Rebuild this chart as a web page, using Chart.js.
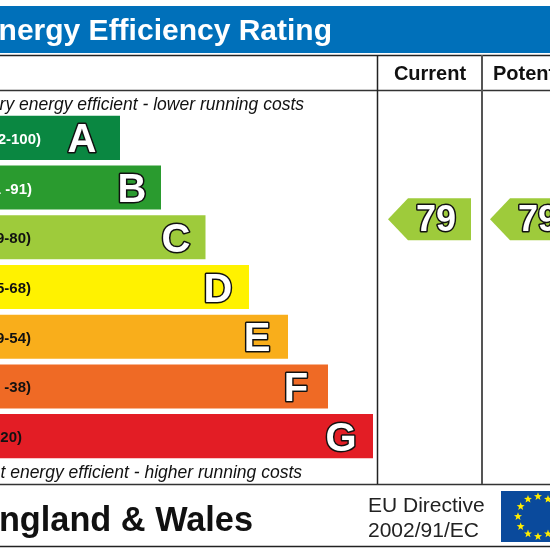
<!DOCTYPE html>
<html>
<head>
<meta charset="utf-8">
<title>Energy Efficiency Rating</title>
<script src="https://cdn.jsdelivr.net/npm/chart.js@4"></script>
<style>
html, body { margin: 0; padding: 0; background: #fff; overflow: hidden; }
canvas { display: block; }
</style>
</head>
<body>
<canvas id="myChart" width="550" height="550"></canvas>
<script>
// chart values
const bands = ['A', 'B', 'C', 'D', 'E', 'F', 'G'];
const ranges = ['(92-100)', '(81 -91)', '(69-80)', '(55-68)', '(39-54)', '(21 -38)', '(1-20)'];
const barLengths = [120, 161, 205.5, 249, 288, 328, 373];
const bandFloor = [92, 81, 69, 55, 39, 21, 1];
const bandTop = [100, 91, 80, 68, 54, 38, 20];
const columns = ['Current', 'Potential'];
const ratings = [79, 79];

// looks
const barColors = ['#0a8741', '#2a9b2f', '#9ecb3b', '#fff200', '#f9ae1b', '#ef6a25', '#e31d25'];
const rangeColors = ['#fff', '#fff', '#111', '#111', '#111', '#111', '#111'];
const rangeEnd = [41, 32, 31, 31, 31, 31, 22];
const letterInset = [38, 29, 29.5, 31, 31, 32, 32];
const columnCenter = [430, 532];
const font = '"Liberation Sans", Arial, sans-serif';

function text(ctx, str, x, y, style, color, align) {
    ctx.font = style + ' ' + font;
    ctx.fillStyle = color;
    ctx.textAlign = align || 'left';
    ctx.textBaseline = 'alphabetic';
    ctx.fillText(str, x, y);
}

function outlined(ctx, str, x, y, style) {
    ctx.font = style + ' ' + font;
    ctx.textAlign = 'center';
    ctx.textBaseline = 'alphabetic';
    ctx.lineJoin = 'round';
    ctx.lineWidth = 3;
    ctx.strokeStyle = '#111';
    ctx.strokeText(str, x, y);
    ctx.fillStyle = '#fff';
    ctx.fillText(str, x, y);
}

function line(ctx, x1, y1, x2, y2, color, w) {
    ctx.beginPath();
    ctx.moveTo(x1, y1);
    ctx.lineTo(x2, y2);
    ctx.strokeStyle = color;
    ctx.lineWidth = w;
    ctx.stroke();
}

function star(ctx, cx, cy, r) {
    ctx.beginPath();
    for (let i = 0; i < 10; i++) {
        let a = -Math.PI / 2 + i * Math.PI / 5;
        let rr = i % 2 == 0 ? r : r * 0.42;
        ctx.lineTo(cx + rr * Math.cos(a), cy + rr * Math.sin(a));
    }
    ctx.closePath();
    ctx.fillStyle = '#ffed00';
    ctx.fill();
}

// header, frame, footer and flag go under the bars
const frame = {
    id: 'frame',
    beforeDatasetsDraw(chart) {
        const ctx = chart.ctx;
        ctx.save();
        ctx.fillStyle = '#0070ba';
        ctx.fillRect(0, 6, 550, 47);
        text(ctx, 'Energy Efficiency Rating', 332, 40, 'bold 30px', '#fff', 'right');

        line(ctx, 0, 55.5, 550, 55.5, '#222', 1.5);
        line(ctx, 0, 90.5, 550, 90.5, '#333', 1.5);
        line(ctx, 0, 484.5, 550, 484.5, '#333', 1.5);
        line(ctx, 0, 546.5, 550, 546.5, '#222', 1.5);
        line(ctx, 377.5, 55, 377.5, 484, '#222', 1.5);
        line(ctx, 482, 55, 482, 484, '#555', 2);

        text(ctx, columns[0], 430, 80, 'bold 20px', '#111', 'center');
        text(ctx, columns[1], 493, 80, 'bold 20px', '#111');

        text(ctx, 'Very energy efficient - lower running costs', 304, 110, 'italic 17.5px', '#111', 'right');
        text(ctx, 'Not energy efficient - higher running costs', 302, 478, 'italic 17.5px', '#111', 'right');

        text(ctx, 'England & Wales', 253, 531, 'bold 34.3px', '#111', 'right');
        text(ctx, 'EU Directive', 368, 512, '21px', '#222');
        text(ctx, '2002/91/EC', 368, 537, '21px', '#222');

        ctx.fillStyle = '#0a4a9c';
        ctx.fillRect(501, 491, 75, 51);
        for (let i = 0; i < 12; i++) {
            let a = i * Math.PI / 6;
            star(ctx, 538 + 20 * Math.cos(a), 516.5 + 20 * Math.sin(a), 4.2);
        }
        ctx.restore();
    }
};

// labels on the bars and the rating arrows, placed from the chart's scales
const labels = {
    id: 'labels',
    afterDatasetsDraw(chart) {
        const ctx = chart.ctx;
        const bars = chart.getDatasetMeta(0).data;
        ctx.save();
        bars.forEach(function (bar, i) {
            text(ctx, ranges[i], rangeEnd[i], bar.y + 6, 'bold 15px', rangeColors[i], 'right');
            outlined(ctx, bands[i], bar.x - letterInset[i], bar.y + 14.5, 'bold 40px');
        });

        ratings.forEach(function (value, i) {
            let idx = bandFloor.findIndex(function (f) { return value >= f; });
            // arrow sits at the score's height inside its band
            let frac = (value - bandFloor[idx]) / (bandTop[idx] - bandFloor[idx]);
            let h = bars[idx].height;
            let y = chart.scales.y.getPixelForValue(idx) + h / 2 - h * frac;
            let x = columnCenter[i];
            ctx.beginPath();
            ctx.moveTo(x - 42, y);
            ctx.lineTo(x - 22, y - 21);
            ctx.lineTo(x + 41, y - 21);
            ctx.lineTo(x + 41, y + 21);
            ctx.lineTo(x - 22, y + 21);
            ctx.closePath();
            ctx.fillStyle = barColors[idx];
            ctx.fill();
            outlined(ctx, String(value), x + 6, y + 12, 'bold 36px');
        });
        ctx.restore();
    }
};

const ctx = document.getElementById('myChart');
var cht = new Chart(ctx, {
    type: 'bar',
    data: {
        labels: bands,
        datasets: [{
            label: 'Rating band',
            data: barLengths,
            backgroundColor: barColors,
            borderWidth: 0,
            categoryPercentage: 1,
            barPercentage: 0.886
        }]
    },
    options: {
        indexAxis: 'y',
        responsive: false,
        animation: false,
        layout: { padding: { top: 113, bottom: 89, left: 0, right: 0 } },
        plugins: { legend: { display: false }, tooltip: { enabled: false } },
        scales: {
            x: { display: false, min: 0, max: 550 },
            y: { display: false }
        }
    },
    plugins: [frame, labels]
});
</script>
</body>
</html>
